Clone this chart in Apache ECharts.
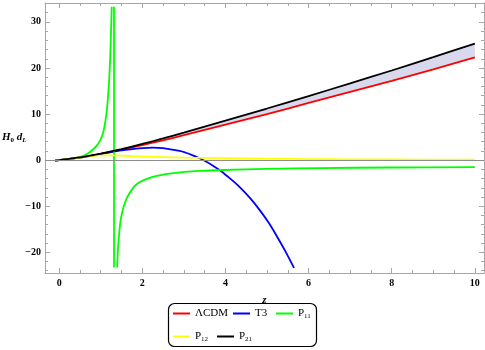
<!DOCTYPE html>
<html><head><meta charset="utf-8">
<script src="https://cdn.jsdelivr.net/npm/echarts@6/dist/echarts.min.js"></script>
<style>html,body{margin:0;padding:0;background:#fff}#c{width:485px;height:350px}</style>
</head><body><div id="c"></div>
<script>
// ---- data ----
const zMain = [-0.1, 0, 0.5, 1, 1.5, 2, 2.5, 3, 4, 5, 6, 7, 8, 9, 10];
const lcdm  = [-0.1, 0, 0.57, 1.35, 2.25, 3.25, 4.3, 5.4, 7.7, 10.0, 12.4, 14.8, 17.2, 19.7, 22.3];
const p21   = [-0.1, 0, 0.58, 1.42, 2.4, 3.5, 4.7, 5.95, 8.55, 11.2, 13.9, 16.65, 19.45, 22.35, 25.3];

const zT3 = [-0.1, 0, 0.5, 1, 1.5, 2, 2.25, 2.5, 2.9, 3.05, 3.2, 3.35, 3.5, 3.7, 3.9, 4.1, 4.35, 4.6, 4.83, 5.05, 5.23, 5.45, 5.65];
const t3  = [-0.1, 0, 0.56, 1.3, 2.1, 2.6, 2.72, 2.62, 2.0, 1.6, 1.1, 0.52, -0.15, -1.2, -2.4, -3.9, -5.9, -8.3, -10.9, -13.7, -16.4, -19.9, -23.4];

const zP12 = [-0.1, 0, 0.3, 0.6, 0.8, 1, 1.3, 1.6, 2, 3, 4, 5, 6, 7, 8, 10];
const p12  = [-0.1, 0, 0.33, 0.68, 0.93, 1.05, 1.05, 0.95, 0.78, 0.55, 0.42, 0.3, 0.22, 0.17, 0.13, 0.08];

const zP11a = [-0.1, 0, 0.2, 0.4, 0.55, 0.7, 0.8, 0.9, 0.99, 1.06, 1.11, 1.15, 1.185, 1.21, 1.235, 1.255, 1.265];
const p11a  = [-0.1, 0, 0.2, 0.45, 0.8, 1.5, 2.2, 3.1, 4.3, 6.0, 8.3, 11, 14.8, 18.5, 24, 30, 33.3];
const zP11pole = [1.32, 1.32];
const p11pole  = [33.3, -23.3];
const zP11b = [1.395, 1.425, 1.48, 1.55, 1.63, 1.75, 1.87, 2.05, 2.27, 2.6, 2.91, 3.4, 3.95, 5, 6.27, 8, 10];
const p11b  = [-23.3, -18, -13, -10.2, -8.2, -6.4, -5.2, -4.3, -3.6, -3.0, -2.65, -2.35, -2.15, -1.9, -1.72, -1.6, -1.5];

const xMajor = [0, 2, 4, 6, 8, 10];
const xMinor = [0.5, 1, 1.5, 2.5, 3, 3.5, 4.5, 5, 5.5, 6.5, 7, 7.5, 8.5, 9, 9.5];
const yMajor = [-20, -10, 0, 10, 20, 30];
const yMinor = [-24, -22, -18, -16, -14, -12, -8, -6, -4, -2, 2, 4, 6, 8, 12, 14, 16, 18, 22, 24, 26, 28, 32, 34];

const legendRich = {'ΛCDM': 'ΛCDM', 'T3': 'T3', 'P11': 'P{s|11}', 'P12': 'P{s|12}', 'P21': 'P{s|21}'};

// ---- chart ----
const pairs = (xs, ys) => xs.map((x, i) => [x, ys[i]]);
const FONT = 'Liberation Serif';
const FRAME = '#a6a6a6';
const XMIN = -0.34, XMAX = 10.22, YMIN = -24.5, YMAX = 34.1;

function xAx(pos, vals, len, labels) {
  return {
    type: 'value', position: pos, min: XMIN, max: XMAX,
    axisLine: {show: len > 4, onZero: false, lineStyle: {color: FRAME, width: 1}},
    axisTick: {show: true, inside: true, length: len, customValues: vals, lineStyle: {color: FRAME}},
    axisLabel: labels ? {show: true, customValues: vals, fontFamily: FONT, fontWeight: 'bold', fontSize: 10, color: '#000', margin: 5} : {show: false},
    splitLine: {show: false}
  };
}
function yAx(pos, vals, len, labels) {
  return {
    type: 'value', position: pos, min: YMIN, max: YMAX,
    axisLine: {show: len > 4, onZero: false, lineStyle: {color: FRAME, width: 1}},
    axisTick: {show: true, inside: true, length: len, customValues: vals, lineStyle: {color: FRAME}},
    axisLabel: labels ? {show: true, customValues: vals, fontFamily: FONT, fontWeight: 'bold', fontSize: 10, color: '#000', margin: 4,
      formatter: v => v < 0 ? '\u2212' + Math.abs(v) : String(v)} : {show: false},
    splitLine: {show: false}
  };
}

const xAxes = [xAx('bottom', xMajor, 5, true), xAx('bottom', xMinor, 3, false), xAx('top', xMajor, 5, false), xAx('top', xMinor, 3, false)];
xAxes[0].name = 'z';
xAxes[0].nameLocation = 'middle';
xAxes[0].nameGap = 22;
xAxes[0].nameTextStyle = {fontFamily: FONT, fontStyle: 'italic', fontWeight: 'bold', fontSize: 11, color: '#000'};
const yAxes = [yAx('left', yMajor, 5, true), yAx('left', yMinor, 3, false), yAx('right', yMajor, 5, false), yAx('right', yMinor, 3, false)];

const lineS = (name, color, data, smooth) => ({
  name, type: 'line', data, color, showSymbol: false, symbol: 'none', smooth: smooth, z: 3,
  lineStyle: {color, width: 1.8}, silent: true
});

const legendPos = [['ΛCDM', 173, 308], ['T3', 233, 308], ['P11', 276, 308], ['P12', 173, 331], ['P21', 217, 331]];
const legends = legendPos.map(([n, l, t]) => ({
  data: [n], left: l, top: t, padding: 0, itemWidth: 17, itemHeight: 2, icon: 'rect', itemGap: 0,
  selectedMode: false,
  formatter: nm => legendRich[nm],
  textStyle: {fontFamily: FONT, fontSize: 11, color: '#000', padding: [0, 0, 0, 0],
    rich: {s: {fontFamily: FONT, fontSize: 7, color: '#000', verticalAlign: 'bottom', padding: [5, 0, 0, 0]}}}
}));

// filled band between ΛCDM and P21, drawn through the axis scales
const bandSeries = {
  name: 'band', type: 'custom', silent: true, z: 1,
  data: zMain.map((z, i) => [z, lcdm[i], p21[i]]),
  encode: {x: 0, y: [1, 2]},
  renderItem: (params, api) => {
    if (params.dataIndex !== 0) return null;
    const upper = zMain.map((z, i) => api.coord([z, p21[i]]));
    const lower = zMain.map((z, i) => api.coord([z, lcdm[i]])).reverse();
    return {type: 'polygon', shape: {points: upper.concat(lower)}, style: {fill: '#d8d9ec', stroke: null}};
  }
};

const option = {
  animation: false,
  backgroundColor: '#fff',
  grid: {left: 45, right: 1, top: 3, bottom: 77, containLabel: false},
  xAxis: xAxes,
  yAxis: yAxes,
  legend: legends,
  graphic: [
    {type: 'rect', shape: {x: 168.5, y: 303.5, width: 148, height: 43, r: 6}, style: {fill: 'none', stroke: '#000', lineWidth: 1.2}, silent: true},
    {type: 'text', left: 2, top: 132, silent: true, style: {
      text: '{a|H}{s|0}{a| d}{t|L}',
      rich: {
        a: {fontFamily: FONT, fontStyle: 'italic', fontWeight: 'bold', fontSize: 11, fill: '#000'},
        s: {fontFamily: FONT, fontWeight: 'bold', fontSize: 7, fill: '#000', verticalAlign: 'bottom', padding: [5, 0, 0, 0]},
        t: {fontFamily: FONT, fontStyle: 'italic', fontWeight: 'bold', fontSize: 7, fill: '#000', verticalAlign: 'bottom', padding: [5, 0, 0, 0]}
      }
    }}
  ],
  series: [
    bandSeries,
    Object.assign(lineS('ΛCDM', '#ff0000', pairs(zMain, lcdm), 0.2), {
      markLine: {silent: true, symbol: 'none', label: {show: false}, lineStyle: {color: '#8c8c8c', width: 1, type: 'solid'}, data: [{yAxis: 0}]}
    }),
    lineS('T3', '#0000ff', pairs(zT3, t3), 0.3),
    lineS('P11', '#00ff00', pairs(zP11a, p11a), 0.3),
    lineS('P11', '#00ff00', pairs(zP11pole, p11pole), false),
    lineS('P11', '#00ff00', pairs(zP11b, p11b), 0.3),
    lineS('P12', '#ffff00', pairs(zP12, p12), 0.3),
    lineS('P21', '#000000', pairs(zMain, p21), 0.2)
  ]
};
const chart = echarts.init(document.getElementById('c'), null, {renderer: 'canvas'});
chart.setOption(option);
</script>
</body></html>
